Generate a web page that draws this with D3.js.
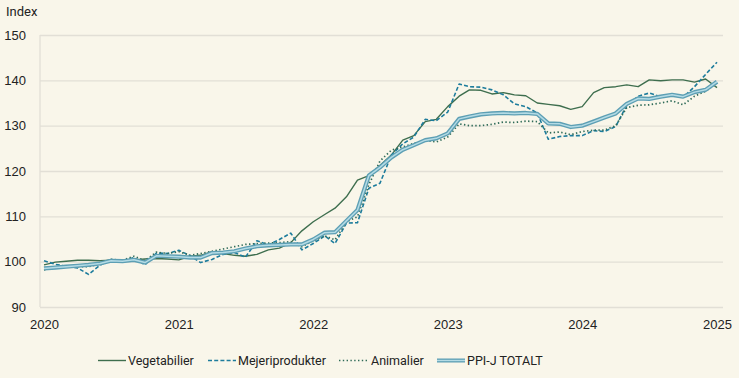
<!DOCTYPE html>
<html>
<head>
<meta charset="utf-8">
<script src="https://cdn.jsdelivr.net/npm/d3@7"></script>
<style>
  html, body { margin: 0; padding: 0; background: #f9f6ea; }
  svg { display: block; font-family: Roboto, "Open Sans", sans-serif; }
</style>
</head>
<body>
<script>
// monthly index values, Jan 2020 .. Jan 2025
const vegetabilier = [
  99.3, 99.9, 100.1, 100.3, 100.3, 100.2, 100.3, 100.1, 100.4, 100.6, 100.7, 100.6,
  100.4, 101.2, 101.4, 102.2, 101.8, 101.4, 101.2, 101.6, 102.6, 103.0, 104.2, 106.8,
  108.8, 110.4, 111.8, 114.3, 118.0, 119.0, 121.2, 123.5, 126.8, 127.8, 130.9, 131.4,
  134.2, 136.5, 137.9, 137.8, 137.0, 137.3, 136.8, 136.6, 135.0, 134.7, 134.4, 133.6,
  134.2, 137.3, 138.4, 138.6, 139.0, 138.6, 140.1, 139.9, 140.1, 140.1, 139.6, 140.3,
  138.4
];
const mejeriprodukter = [
  100.2, 99.4, 99.0, 98.6, 97.2, 99.2, 100.5, 100.1, 100.9, 99.3, 101.9, 101.8,
  102.5, 101.3, 99.8, 100.5, 101.6, 102.0, 101.0, 104.6, 103.7, 104.9, 106.3, 102.6,
  104.0, 105.7, 104.0, 108.5, 108.6, 116.2, 117.3, 123.5, 126.0, 127.5, 131.4, 131.1,
  133.0, 139.2, 138.6, 138.5, 137.9, 136.8, 134.8, 134.2, 132.8, 127.0, 127.6, 127.8,
  127.8, 128.9, 128.7, 129.8, 134.5, 136.5, 137.2, 136.4, 136.9, 136.3, 138.6, 141.3,
  144.0
];
const animalier = [
  98.2, 98.6, 98.8, 98.9, 98.9, 99.5, 100.5, 100.3, 101.2, 100.2, 102.1, 101.8,
  102.2, 101.4, 101.8, 102.3, 102.8, 103.3, 103.8, 104.0, 104.1, 104.2, 104.4, 103.3,
  104.6, 105.7, 104.8, 108.8, 109.9, 117.0, 122.2, 124.6, 125.3, 126.1, 126.8, 126.4,
  127.5, 130.4, 130.0, 130.0, 130.3, 130.8, 130.7, 131.0, 130.9, 128.4, 128.6, 128.0,
  128.7, 129.0, 129.0, 130.0, 134.0, 134.5, 134.6, 135.0, 135.5, 134.6, 136.5, 137.6,
  139.4
];
const ppiTotalt = [
  98.5, 98.7, 98.9, 99.1, 99.3, 99.6, 100.2, 100.1, 100.4, 99.8, 101.3, 101.2,
  101.1, 100.9, 100.9, 101.9, 102.0, 102.3, 102.9, 103.4, 103.6, 103.7, 103.8, 103.8,
  104.9, 106.4, 106.5, 109.0, 111.4, 119.0, 120.8, 123.0, 124.7, 125.7, 126.8, 127.2,
  128.3, 131.5, 132.0, 132.5, 132.7, 132.8, 132.7, 132.8, 132.6, 130.5, 130.4, 129.7,
  130.0, 130.9, 131.8, 132.7, 134.8, 136.0, 135.9, 136.4, 136.8, 136.4, 137.4, 137.9,
  139.7
];
const yearTicks = [2020, 2021, 2022, 2023, 2024, 2025];
const yTicks = [90, 100, 110, 120, 130, 140, 150];

const months = d3.timeMonth.range(new Date(2020, 0, 1), new Date(2025, 1, 1));

const width = 739, height = 378;
const plotLeft = 40, plotRight = 723, plotTop = 35, plotBottom = 307;

const x = d3.scaleTime()
  .domain([new Date(2020, 0, 1), new Date(2025, 0, 1)])
  .range([44, 717]);
const y = d3.scaleLinear()
  .domain([90, 150])
  .range([plotBottom, plotTop]);

const svg = d3.select('body').append('svg')
  .attr('width', width)
  .attr('height', height);

// gridlines + y labels
const yAxis = d3.axisLeft(y)
  .tickValues(yTicks)
  .tickSize(-(plotRight - plotLeft))
  .tickPadding(14)
  .tickFormat(d3.format('d'));

const gy = svg.append('g')
  .attr('transform', 'translate(' + plotLeft + ',0)')
  .call(yAxis);
gy.select('.domain').remove();
gy.selectAll('line').attr('stroke', '#e2dfd6').attr('stroke-width', 1.3);
gy.selectAll('text').attr('fill', '#222').style('font-size', '13px');

// left axis line
svg.append('line')
  .attr('x1', plotLeft).attr('x2', plotLeft)
  .attr('y1', plotTop).attr('y2', plotBottom)
  .attr('stroke', '#e2dfd6').attr('stroke-width', 1.3);

const xAxis = d3.axisBottom(x)
  .tickValues(yearTicks.map(yr => new Date(yr, 0, 1)))
  .tickSize(0)
  .tickPadding(13)
  .tickFormat(d3.timeFormat('%Y'));

const gx = svg.append('g')
  .attr('transform', 'translate(0,' + plotBottom + ')')
  .call(xAxis);
gx.select('.domain').remove();
gx.selectAll('text').attr('fill', '#222').style('font-size', '13px');

svg.append('text')
  .attr('x', 6).attr('y', 16)
  .attr('fill', '#222')
  .style('font-size', '13px')
  .text('Index');

const line = d3.line()
  .x((d, i) => x(months[i]))
  .y(d => y(d));

const series = [
  { name: 'Vegetabilier', values: vegetabilier, color: '#3e6e4e', width: 1.4, dash: null },
  { name: 'Mejeriprodukter', values: mejeriprodukter, color: '#1d7c9c', width: 1.6, dash: '4,2.2' },
  { name: 'Animalier', values: animalier, color: '#2f6b58', width: 1.7, dash: '1.4,2.4' },
  { name: 'PPI-J TOTALT', values: ppiTotalt, color: '#5d9fb4', width: 4.2, dash: null, inner: '#b4dbe5' }
];

series.forEach(s => {
  svg.append('path')
    .datum(s.values)
    .attr('fill', 'none')
    .attr('stroke', s.color)
    .attr('stroke-width', s.width)
    .attr('stroke-dasharray', s.dash)
    .attr('stroke-linejoin', 'round')
    .attr('d', line);
  if (s.inner) {
    svg.append('path')
      .datum(s.values)
      .attr('fill', 'none')
      .attr('stroke', s.inner)
      .attr('stroke-width', 1.5)
      .attr('stroke-linejoin', 'round')
      .attr('d', line);
  }
});

// legend
const legendX = [98, 208, 339, 437];
const legend = svg.append('g');
series.forEach((s, i) => {
  const g = legend.append('g').attr('transform', 'translate(' + legendX[i] + ',365)');
  g.append('line')
    .attr('x1', 0).attr('x2', 28).attr('y1', -4.5).attr('y2', -4.5)
    .attr('stroke', s.color)
    .attr('stroke-width', s.inner ? 4 : s.width)
    .attr('stroke-dasharray', s.dash);
  if (s.inner) {
    g.append('line')
      .attr('x1', 0).attr('x2', 28).attr('y1', -4.5).attr('y2', -4.5)
      .attr('stroke', s.inner).attr('stroke-width', 1.4);
  }
  g.append('text')
    .attr('x', s.name === 'Animalier' ? 32 : 30)
    .attr('y', 0)
    .attr('fill', '#222')
    .style('font-size', '12.5px')
    .text(s.name);
});
</script>
</body>
</html>
